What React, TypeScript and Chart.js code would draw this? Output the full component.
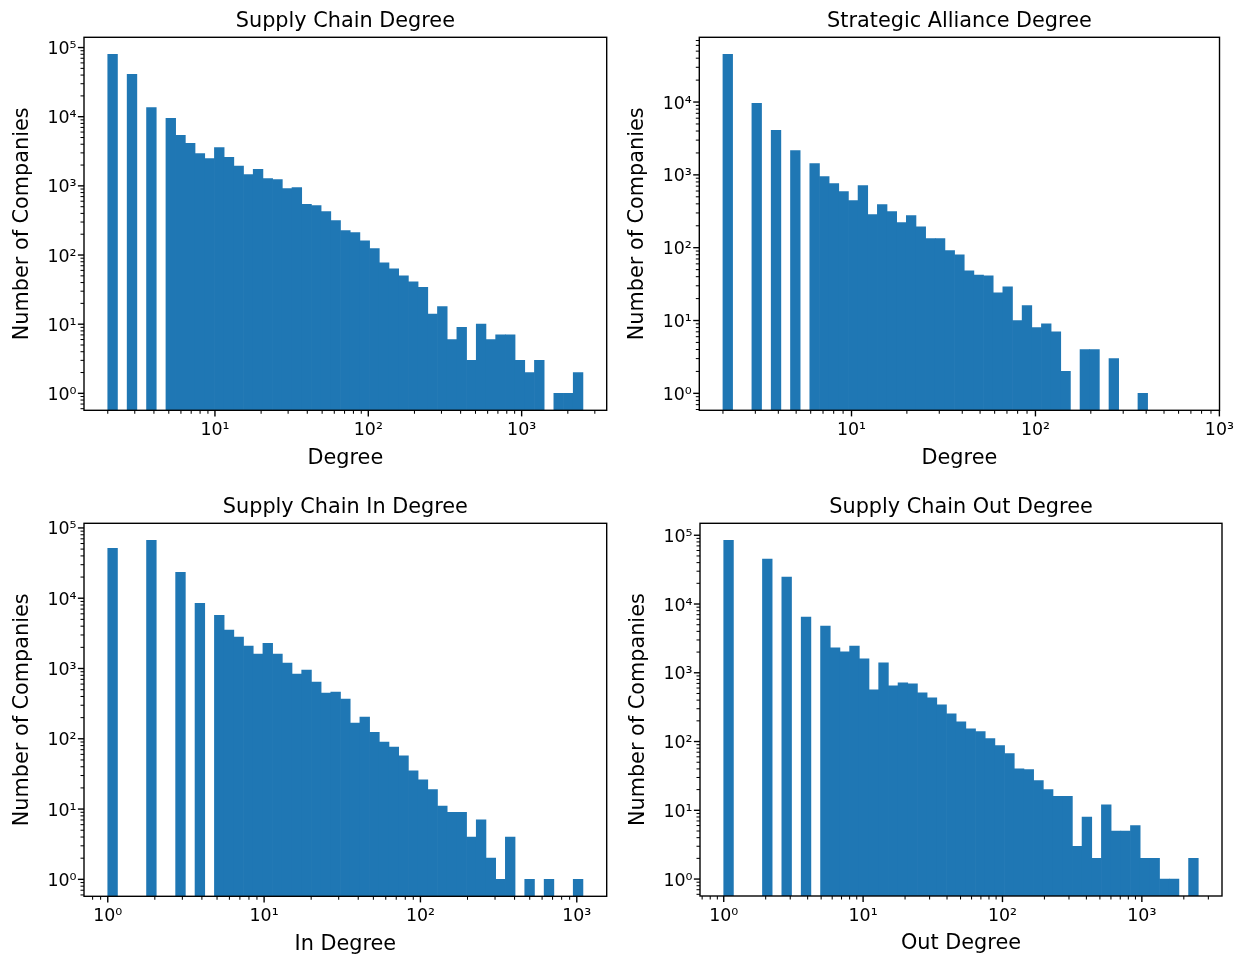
import React, { useEffect, useRef } from "react";
import { Chart, registerables } from "chart.js";

Chart.register(...registerables);

const FONT = "'DejaVu Sans', 'Liberation Sans', sans-serif";
const BAR_COLOR = "#1f77b4";
const BIN_COUNT = 49; // 50 log-spaced edges

// Degree range spanned by the log-spaced bins of each histogram
const supplyChainDegreeRange = [2, 2510];
const allianceDegreeRange = [2, 745];
const inDegreeRange = [1, 1095];
const outDegreeRange = [1, 2540];

// Number of companies falling in each bin (0 = empty bin)
const supplyChainDegreeCounts = [
  80000, 0, 41000, 0, 13600, 0, 9460, 5360, 4110, 2940,
  2490, 3590, 2580, 1930, 1460, 1730, 1280, 1235, 915, 946,
  543, 519, 425, 315, 225, 211, 161, 124, 77, 63,
  50, 41, 34, 14, 18, 6, 9, 3, 10, 6,
  7, 7, 3, 2, 3, 0, 1, 1, 2,
];
const allianceDegreeCounts = [
  45300, 0, 0, 9590, 0, 4080, 0, 2160, 0, 1430,
  948, 760, 590, 444, 713, 285, 391, 313, 221, 276,
  194, 133, 133, 91, 80, 48, 42, 41, 24, 29,
  10, 16, 8, 9, 7, 2, 0, 4, 4, 0,
  3, 0, 0, 1, 0, 0, 0, 0, 0,
];
const inDegreeCounts = [
  51400, 0, 0, 0, 66800, 0, 0, 23400, 0, 8490,
  0, 5730, 3510, 2790, 2080, 1600, 2290, 1600, 1190, 830,
  946, 640, 446, 461, 366, 167, 203, 124, 90, 76,
  57, 35, 26, 19, 11, 9, 9, 4, 7, 2,
  1, 4, 0, 1, 0, 1, 0, 0, 1,
];
const outDegreeCounts = [
  84600, 0, 0, 0, 44900, 0, 24600, 0, 6460, 0,
  4780, 2300, 2010, 2450, 1590, 564, 1390, 645, 713, 690,
  510, 431, 342, 253, 194, 153, 139, 110, 87, 67,
  40, 39, 27, 20, 16, 16, 3, 8, 2, 12,
  5, 5, 6, 2, 2, 1, 1, 0, 2,
];

const panelTitles = [
  "Supply Chain Degree",
  "Strategic Alliance Degree",
  "Supply Chain In Degree",
  "Supply Chain Out Degree",
];
const xAxisLabels = ["Degree", "Degree", "In Degree", "Out Degree"];
const yAxisLabel = "Number of Companies";

const CANVAS_W = 622;
const CANVAS_H = 478;
const TICK_SIZE = 17.4;
const LABEL_SIZE = 20.8;
const LABEL_HALF_LINE = (LABEL_SIZE * 1.2) / 2;

type Frame = { left: number; top: number; right: number; bottom: number };
type PanelSpec = {
  title: string;
  xLabel: string;
  range: number[];
  counts: number[];
  pageX: number;
  pageY: number;
  frame: Frame;
};

const panels: PanelSpec[] = [
  {
    title: panelTitles[0], xLabel: xAxisLabels[0], range: supplyChainDegreeRange, counts: supplyChainDegreeCounts,
    pageX: 0, pageY: 0, frame: { left: 84, top: 37.3, right: 606.7, bottom: 410.3 },
  },
  {
    title: panelTitles[1], xLabel: xAxisLabels[1], range: allianceDegreeRange, counts: allianceDegreeCounts,
    pageX: 622, pageY: 0, frame: { left: 77.3, top: 37.3, right: 599.7, bottom: 410.3 },
  },
  {
    title: panelTitles[2], xLabel: xAxisLabels[2], range: inDegreeRange, counts: inDegreeCounts,
    pageX: 0, pageY: 478, frame: { left: 84, top: 45.3, right: 606.7, bottom: 418.3 },
  },
  {
    title: panelTitles[3], xLabel: xAxisLabels[3], range: outDegreeRange, counts: outDegreeCounts,
    pageX: 622, pageY: 478, frame: { left: 78, top: 45.3, right: 600, bottom: 418 },
  },
];

const SUPERSCRIPT: Record<string, string> = {
  "0": "\u2070", "1": "\u00b9", "2": "\u00b2", "3": "\u00b3", "4": "\u2074",
  "5": "\u2075", "6": "\u2076", "7": "\u2077", "8": "\u2078", "9": "\u2079", "-": "\u207b",
};

function isDecade(v: number): boolean {
  const l = Math.log10(v);
  return Math.abs(l - Math.round(l)) < 1e-6;
}

function powerLabel(v: number): string {
  const e = String(Math.round(Math.log10(v)));
  return "10" + e.split("").map((c) => SUPERSCRIPT[c]).join("");
}

// Major ticks at powers of ten, minor ticks at 2..9 times each power
function logTicks(min: number, max: number) {
  const out: { value: number }[] = [];
  const k0 = Math.floor(Math.log10(min));
  const k1 = Math.ceil(Math.log10(max));
  for (let k = k0; k <= k1; k++) {
    for (let m = 1; m <= 9; m++) {
      const v = m * Math.pow(10, k);
      if (v >= min * (1 - 1e-9) && v <= max * (1 + 1e-9)) out.push({ value: v });
    }
  }
  return out;
}

// Outward tick marks (long for decades, short for minors) and the box frame
const axisFrame = {
  id: "axisFrame",
  afterDraw(chart: any) {
    const { ctx, chartArea: a } = chart;
    ctx.save();
    ctx.strokeStyle = "#000";
    for (const id of ["x", "y"]) {
      const s = chart.scales[id];
      for (const t of s.ticks) {
        const major = isDecade(t.value);
        const len = major ? 6.1 : 3.5;
        ctx.lineWidth = major ? 1.39 : 1.04;
        const p = s.getPixelForValue(t.value);
        ctx.beginPath();
        if (id === "x") {
          ctx.moveTo(p, a.bottom);
          ctx.lineTo(p, a.bottom + len);
        } else {
          ctx.moveTo(a.left - len, p);
          ctx.lineTo(a.left, p);
        }
        ctx.stroke();
      }
    }
    ctx.lineWidth = 1.39;
    ctx.strokeRect(a.left, a.top, a.right - a.left, a.bottom - a.top);
    ctx.restore();
  },
};

function HistogramPanel({ spec }: { spec: PanelSpec }) {
  const canvasRef = useRef<HTMLCanvasElement | null>(null);

  useEffect(() => {
    const canvas = canvasRef.current;
    if (!canvas) return;
    const { range, counts, frame: f } = spec;

    const lo = Math.log10(range[0]);
    const hi = Math.log10(range[1]);
    const step = (hi - lo) / BIN_COUNT;
    const centers = counts.map((_, i) => Math.pow(10, lo + (i + 0.5) * step));
    const xPad = 0.05 * (hi - lo);

    const positive = counts.filter((c) => c > 0);
    const yLo = Math.log10(Math.min(...positive));
    const yHi = Math.log10(Math.max(...positive));
    const yPad = 0.05 * (yHi - yLo);

    const tickFont = { family: FONT, size: TICK_SIZE };
    const labelFont = { family: FONT, size: LABEL_SIZE, weight: "normal" as const, lineHeight: 1.2 };

    const chart = new Chart(canvas, {
      type: "bar",
      data: {
        datasets: [
          {
            data: counts.map((c, i) => ({ x: centers[i], y: c > 0 ? c : null })) as any,
            backgroundColor: BAR_COLOR,
            borderWidth: 0,
            barThickness: "flex",
            barPercentage: 1,
            categoryPercentage: 1,
            inflateAmount: (ctx: any) => (ctx.raw && ctx.raw.y ? 0.33 : 0),
          } as any,
        ],
      },
      options: {
        responsive: false,
        animation: false,
        events: [],
        layout: { padding: { left: 0, top: 0, bottom: 0, right: CANVAS_W - f.right } },
        plugins: {
          legend: { display: false },
          tooltip: { enabled: false },
          title: {
            display: true,
            text: spec.title,
            fullSize: false,
            color: "#000",
            font: labelFont,
            padding: { top: f.top - 15.4 - LABEL_HALF_LINE, bottom: 15.4 - LABEL_HALF_LINE },
          },
        },
        scales: {
          x: {
            type: "logarithmic",
            min: Math.pow(10, lo - xPad),
            max: Math.pow(10, hi + xPad),
            bounds: "data",
            offset: false,
            grid: { display: false, drawTicks: false },
            border: { display: false },
            afterBuildTicks: (s: any) => {
              s.ticks = logTicks(s.min, s.max);
            },
            afterFit: (s: any) => {
              s.height = CANVAS_H - f.bottom;
            },
            ticks: {
              autoSkip: false,
              maxRotation: 0,
              minRotation: 0,
              padding: 20.5 - TICK_SIZE * 0.6,
              color: "#000",
              font: tickFont,
              callback: (v: any) => (isDecade(Number(v)) ? powerLabel(Number(v)) : ""),
            },
            title: {
              display: true,
              text: spec.xLabel,
              color: "#000",
              font: labelFont,
              padding: { top: 0, bottom: CANVAS_H - f.bottom - 47.9 - LABEL_HALF_LINE },
            },
          } as any,
          y: {
            type: "logarithmic",
            min: Math.pow(10, yLo - yPad),
            max: Math.pow(10, yHi + yPad),
            bounds: "data",
            beginAtZero: false,
            grid: { display: false, drawTicks: false },
            border: { display: false },
            afterBuildTicks: (s: any) => {
              s.ticks = logTicks(s.min, s.max);
            },
            afterFit: (s: any) => {
              s.width = f.left;
            },
            ticks: {
              autoSkip: false,
              padding: 7.5,
              labelOffset: 2,
              color: "#000",
              font: tickFont,
              callback: (v: any) => (isDecade(Number(v)) ? powerLabel(Number(v)) : ""),
            },
            title: {
              display: true,
              text: yAxisLabel,
              color: "#000",
              font: labelFont,
              padding: { top: f.left - 61.8 - LABEL_HALF_LINE, bottom: 0 },
            },
          } as any,
        },
      },
      plugins: [axisFrame],
    });

    return () => chart.destroy();
  }, [spec]);

  return (
    <div
      style={{
        position: "absolute",
        left: spec.pageX,
        top: spec.pageY,
        width: CANVAS_W,
        height: CANVAS_H,
      }}
    >
      <canvas
        ref={canvasRef}
        width={CANVAS_W}
        height={CANVAS_H}
        style={{ display: "block", width: CANVAS_W, height: CANVAS_H }}
      />
    </div>
  );
}

export default function App() {
  return (
    <div
      style={{
        position: "absolute",
        left: 0,
        top: 0,
        width: 1244,
        height: 956,
        background: "#ffffff",
        overflow: "hidden",
      }}
    >
      {panels.map((p) => (
        <HistogramPanel key={p.title} spec={p} />
      ))}
    </div>
  );
}
